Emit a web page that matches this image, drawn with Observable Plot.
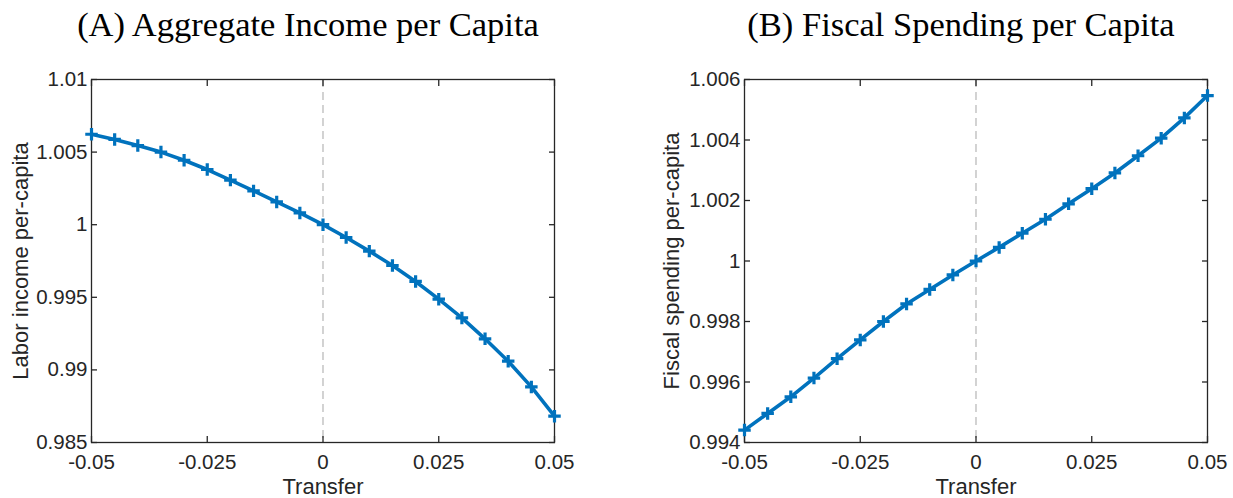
<!DOCTYPE html>
<html>
<head>
<meta charset="utf-8">
<script src="https://cdn.jsdelivr.net/npm/d3@7"></script>
<script src="https://cdn.jsdelivr.net/npm/@observablehq/plot@0.6"></script>
<style>
  html, body { margin: 0; padding: 0; background: #fff; }
  #root { position: relative; width: 1233px; height: 498px; overflow: hidden; }
  .panel { position: absolute; top: 0; }
  .title { position: absolute; top: 5px; font-family: "Liberation Serif", "DejaVu Serif", serif; font-size: 34.5px; color: #000; white-space: nowrap; transform: translateX(-50%); }
  .panel svg { position: absolute; top: 60px; left: 0; }
</style>
</head>
<body>
<div id="root"></div>
<script>
// ---- data ----
const transfer = [-0.05, -0.045, -0.04, -0.035, -0.03, -0.025, -0.02, -0.015, -0.01, -0.005, 0,
                  0.005, 0.01, 0.015, 0.02, 0.025, 0.03, 0.035, 0.04, 0.045, 0.05];
const laborIncome = [1.00623, 1.00587, 1.00545, 1.00500, 1.00444, 1.00380, 1.00307, 1.00233, 1.00157, 1.00081, 1.00000,
                     0.99912, 0.99818, 0.99719, 0.99609, 0.99487, 0.99358, 0.99214, 0.99060, 0.98883, 0.98681];
const fiscalSpending = [0.99441, 0.99496, 0.99551, 0.99613, 0.99677, 0.99739, 0.99800, 0.99858, 0.99906, 0.99954, 1.00000,
                        1.00045, 1.00092, 1.00138, 1.00189, 1.00239, 1.00291, 1.00348, 1.00406, 1.00473, 1.00547];
const xTicks = [-0.05, -0.025, 0, 0.025, 0.05];
const xTickLabels = ["-0.05", "-0.025", "0", "0.025", "0.05"];
const yTicksA = [0.985, 0.99, 0.995, 1, 1.005, 1.01];
const yTickLabelsA = ["0.985", "0.99", "0.995", "1", "1.005", "1.01"];
const yTicksB = [0.994, 0.996, 0.998, 1, 1.002, 1.004, 1.006];
const yTickLabelsB = ["0.994", "0.996", "0.998", "1", "1.002", "1.004", "1.006"];
const titleA = "(A) Aggregate Income per Capita";
const titleB = "(B) Fiscal Spending per Capita";
const ylabelA = "Labor income per-capita";
const ylabelB = "Fiscal spending per-capita";
const xlabel = "Transfer";

const blue = "#0072BD";
const axisColor = "#262626";
const tickFont = 20.5;
const labelFont = 22;

function panel({values, yTicks, yLabels, yDomain, ylabel, width, ml, mr, ylabelOffset}) {
  const data = transfer.map((t, i) => ({t, v: values[i]}));
  return Plot.plot({
    width, height: 438,
    marginTop: 19, marginBottom: 56, marginLeft: ml, marginRight: mr,
    style: {fontFamily: "'Liberation Sans', Arial, Helvetica, sans-serif", fontSize: tickFont + "px", color: axisColor, background: "#fff", overflow: "visible"},
    x: {domain: [-0.05, 0.05]},
    y: {domain: yDomain},
    marks: [
      Plot.ruleX([0], {stroke: "#c8c8c8", strokeWidth: 1.6, strokeDasharray: "8,5"}),
      // tick labels
      Plot.axisX(xTicks, {anchor: "bottom", tickSize: 0, tickPadding: 12, fill: axisColor, fontSize: tickFont,
        tickFormat: (d, i) => xTickLabels[i], label: null}),
      Plot.axisY(yTicks, {anchor: "left", tickSize: 0, tickPadding: 4, fill: axisColor, fontSize: tickFont,
        tickFormat: (d, i) => yLabels[i], label: null}),
      // axis titles
      Plot.axisX(xTicks, {anchor: "bottom", tickSize: 0, text: null, fill: axisColor, fontSize: labelFont,
        label: xlabel, labelAnchor: "center", labelArrow: "none", labelOffset: 51}),
      Plot.axisY(yTicks, {anchor: "left", tickSize: 0, text: null, fill: axisColor, fontSize: labelFont,
        label: ylabel, labelAnchor: "center", labelArrow: "none", labelOffset: ylabelOffset}),
      // inward ticks on all four sides
      Plot.axisX(xTicks, {anchor: "bottom", tickSize: -6, text: null, label: null, stroke: axisColor, strokeWidth: 1.3}),
      Plot.axisX(xTicks, {anchor: "top", tickSize: -6, text: null, label: null, stroke: axisColor, strokeWidth: 1.3}),
      Plot.axisY(yTicks, {anchor: "left", tickSize: -6, text: null, label: null, stroke: axisColor, strokeWidth: 1.3}),
      Plot.axisY(yTicks, {anchor: "right", tickSize: -6, text: null, label: null, stroke: axisColor, strokeWidth: 1.3}),
      Plot.frame({stroke: axisColor, strokeWidth: 1.3}),
      Plot.line(data, {x: "t", y: "v", stroke: blue, strokeWidth: 3.6}),
      Plot.dot(data, {x: "t", y: "v", symbol: "plus", r: 4.1, stroke: blue, strokeWidth: 3.2})
    ]
  });
}

const root = document.getElementById("root");

function addPanel(left, width, titleText, titleX, chart) {
  const div = document.createElement("div");
  div.className = "panel";
  div.style.left = left + "px";
  div.style.width = width + "px";
  div.style.height = "498px";
  const t = document.createElement("div");
  t.className = "title";
  t.style.left = titleX + "px";
  t.textContent = titleText;
  div.appendChild(t);
  div.appendChild(chart);
  root.appendChild(div);
}

addPanel(0, 616, titleA, 308,
  panel({values: laborIncome, yTicks: yTicksA, yLabels: yTickLabelsA, yDomain: [0.985, 1.01], ylabel: ylabelA,
         width: 616, ml: 91, mr: 62, ylabelOffset: 79}));
addPanel(616, 617, titleB, 961 - 616,
  panel({values: fiscalSpending, yTicks: yTicksB, yLabels: yTickLabelsB, yDomain: [0.994, 1.006], ylabel: ylabelB,
         width: 617, ml: 128, mr: 26, ylabelOffset: 81}));
</script>
</body>
</html>
